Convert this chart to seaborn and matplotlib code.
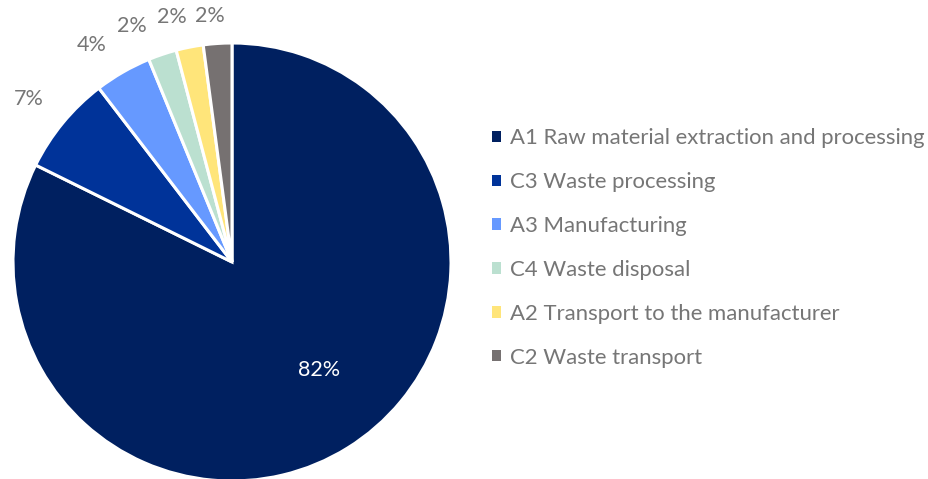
import matplotlib
matplotlib.use("Agg")
import matplotlib.pyplot as plt
import seaborn as sns
import numpy as np

sns.set_theme(style="white")
plt.rcParams['font.family'] = ['Lato', 'DejaVu Sans']

categories = ["A1 Raw material extraction and processing", "C3 Waste processing",
              "A3 Manufacturing", "C4 Waste disposal",
              "A2 Transport to the manufacturer", "C2 Waste transport"]
values = [82.3, 7.3, 4.2, 2.1, 2.0, 2.1]
colors = ["#002060", "#003399", "#6699FF", "#BBE0D0", "#FFE57A", "#767171"]
text_gray = "#767676"

# label layout (radial distance, angular nudge in degrees) per wedge
label_dist = [0.635, 1.19, 1.18, 1.17, 1.15, 1.13]
label_nudge = [7.0, 0.8, 3.0, 4.5, 2.6, 1.3]

fig = plt.figure(figsize=(9.29, 4.79), dpi=100)
ax = fig.add_axes([13/929, -2/479, 438/929, 438/479])

wedges, texts, autotexts = ax.pie(values, colors=colors, startangle=90, counterclock=False,
                                  autopct=lambda p: f"{p:.0f}%", pctdistance=1.19,
                                  wedgeprops=dict(edgecolor="white", linewidth=2.2),
                                  textprops=dict(fontsize=15.5, color=text_gray))
for w, t, v, d, n in zip(wedges, autotexts, values, label_dist, label_nudge):
    ang = np.deg2rad((w.theta1 + w.theta2) / 2 + n)
    t.set_position((d * np.cos(ang), d * np.sin(ang)))
    if v > 50:
        t.set_color("white")
ax.set_xlim(-1, 1)
ax.set_ylim(-1, 1)
ax.set_aspect("equal")
ax.axis("off")

leg = fig.legend(wedges, categories, loc="center left", bbox_to_anchor=(492/929, 1 - 248/479),
                 frameon=False, fontsize=15.9, handlelength=0.42, handleheight=0.42,
                 handletextpad=0.4, labelspacing=1.08, borderaxespad=0, borderpad=0)
for t in leg.get_texts():
    t.set_color(text_gray)
for h in leg.legend_handles:
    h.set_edgecolor("none")

fig.savefig("out.png", dpi=100)
